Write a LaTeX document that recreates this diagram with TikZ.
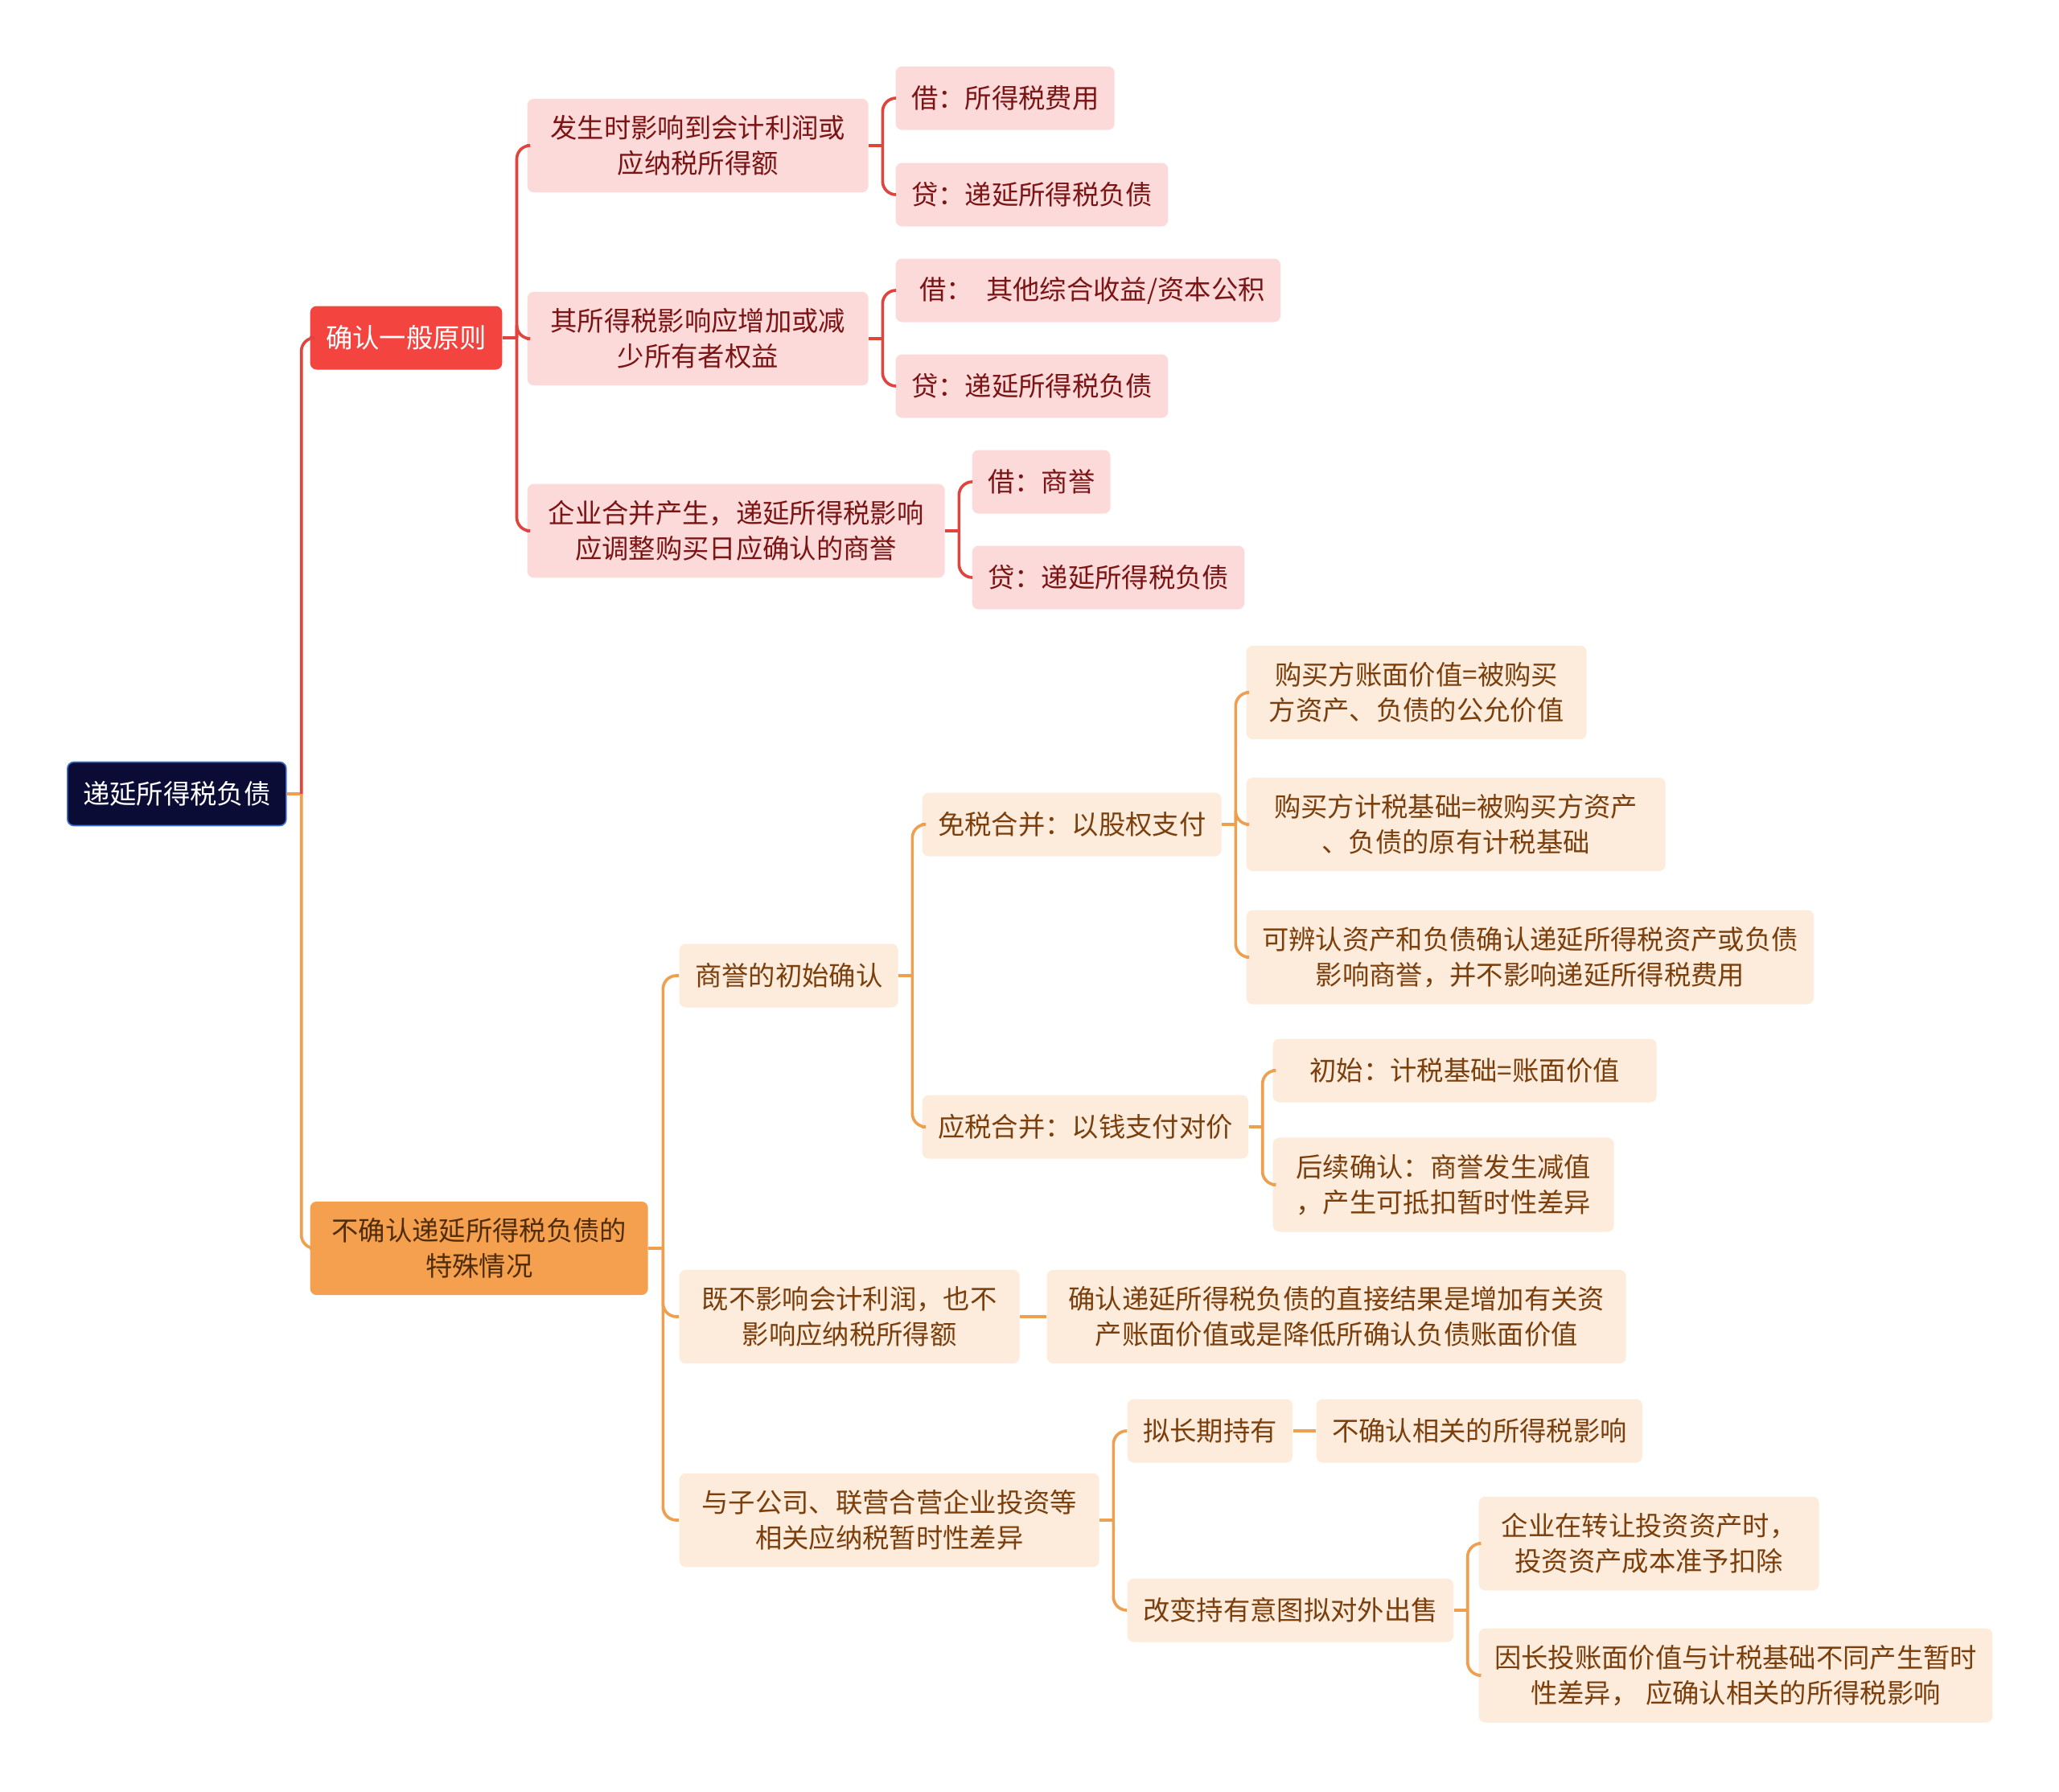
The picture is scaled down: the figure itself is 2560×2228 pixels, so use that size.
\documentclass[tikz,border=0pt]{standalone}
\usepackage{fontspec}
\setmainfont{Noto Sans CJK SC}
\usepackage{tikz}
\usetikzlibrary{calc}
\definecolor{croot}{HTML}{0B0C36}
\definecolor{crootD}{HTML}{3A6FD0}
\definecolor{cred}{HTML}{F4443F}
\definecolor{credL}{HTML}{E0443F}
\definecolor{cpink}{HTML}{FCDADA}
\definecolor{cpinkD}{HTML}{7B1414}
\definecolor{corg}{HTML}{F5A04F}
\definecolor{corgD}{HTML}{4F2C0A}
\definecolor{corgL}{HTML}{EEA050}
\definecolor{cpeach}{HTML}{FDEBDB}
\definecolor{cpeachD}{HTML}{7A3F0C}
\tikzset{
  mbox/.style={rounded corners=2.4pt, align=center, anchor=west,
               inner xsep=5.8pt, inner ysep=6.2pt, minimum height=23.7pt,
               font=\fontsize{10}{13.2}\selectfont},
  wd/.style={minimum width={#1*0.3pt}},
  nroot/.style={mbox, fill=croot, draw=crootD, line width=0.5pt, text=white},
  nred/.style={mbox, fill=cred, text=white},
  npink/.style={mbox, fill=cpink, text=cpinkD},
  norg/.style={mbox, fill=corg, text=corgD, inner xsep=8pt},
  npeach/.style={mbox, fill=cpeach, text=cpeachD},
  linkR/.style={draw=credL, line width=1.1pt, rounded corners=5pt},
  linkO/.style={draw=corgL, line width=1.1pt, rounded corners=5pt},
}
\begin{document}
\begin{tikzpicture}[x=0.3pt, y=-0.3pt]
  \useasboundingbox (0,0) rectangle (2560,2228);
  \node[nroot] (root) at (83,987) {递延所得税负债};
  \node[nred] (red) at (385,420) {确认一般原则};
  \node[norg] (org) at (385,1552) {不确认递延所得税负债的\\特殊情况};
  % red branch
  \node[npink, wd=424] (r1) at (655,181) {发生时影响到会计利润或\\应纳税所得额};
  \node[npink, wd=424] (r2) at (655,421) {其所得税影响应增加或减\\少所有者权益};
  \node[npink, wd=519] (r3) at (655,660) {企业合并产生，递延所得税影响\\应调整购买日应确认的商誉};
  \node[npink] (r1a) at (1113,122) {借：所得税费用};
  \node[npink] (r1b) at (1113,242) {贷：递延所得税负债};
  \node[npink] (r2a) at (1113,361) {\hspace{0.3em}借：\hspace{0.5em}其他综合收益/资本公积};
  \node[npink] (r2b) at (1113,480) {贷：递延所得税负债};
  \node[npink] (r3a) at (1208,599) {借：商誉};
  \node[npink] (r3b) at (1208,718) {贷：递延所得税负债};
  % orange branch
  \node[npeach] (o1) at (844,1213) {商誉的初始确认};
  \node[npeach, wd=423] (o2) at (844,1637) {既不影响会计利润，也不\\影响应纳税所得额};
  \node[npeach, wd=522] (o3) at (844,1890) {与子公司、联营合营企业投资等\\相关应纳税暂时性差异};
  \node[npeach] (o1a) at (1146,1025) {免税合并：以股权支付};
  \node[npeach] (o1b) at (1146,1401) {应税合并：以钱支付对价};
  \node[npeach, wd=720] (o2a) at (1301,1637) {确认递延所得税负债的直接结果是增加有关资\\产账面价值或是降低所确认负债账面价值};
  \node[npeach] (o3a) at (1401,1779) {拟长期持有};
  \node[npeach] (o3b) at (1401,2002) {改变持有意图拟对外出售};
  \node[npeach, wd=423] (o1a1) at (1549,861) {购买方账面价值=被购买\\方资产、负债的公允价值};
  \node[npeach, wd=521] (o1a2) at (1549,1025) {购买方计税基础=被购买方资产\\、负债的原有计税基础};
  \node[npeach] (o1a3) at (1549,1190) {可辨认资产和负债确认递延所得税资产或负债\\影响商誉，并不影响递延所得税费用};
  \node[npeach, wd=477] (o1b1) at (1582,1331) {初始：计税基础=账面价值};
  \node[npeach, wd=424] (o1b2) at (1582,1473) {后续确认：商誉发生减值\\，产生可抵扣暂时性差异};
  \node[npeach] (o3a1) at (1636,1779) {不确认相关的所得税影响};
  \node[npeach, wd=423] (o3b1) at (1838,1919) {企业在转让投资资产时，\\投资资产成本准予扣除};
  \node[npeach] (o3b2) at (1838,2083) {因长投账面价值与计税基础不同产生暂时\\性差异，\hspace{0.3em}应确认相关的所得税影响};
  % connectors
  \draw[linkO] (root.east) -- ++(18,0) coordinate (rootT);
  \draw[linkR] (rootT) |- (red.west);
  \draw[linkO] (rootT) |- (org.west);
  \draw[linkR] (red.east) -- ++(17.5,0) coordinate (redT);
  \foreach \ch in {r1,r2,r3} \draw[linkR] (redT) |- (\ch.west);
  \draw[linkR] (r1.east) -- ++(17,0) coordinate (r1T);
  \foreach \ch in {r1a,r1b} \draw[linkR] (r1T) |- (\ch.west);
  \draw[linkR] (r2.east) -- ++(17,0) coordinate (r2T);
  \foreach \ch in {r2a,r2b} \draw[linkR] (r2T) |- (\ch.west);
  \draw[linkR] (r3.east) -- ++(17,0) coordinate (r3T);
  \foreach \ch in {r3a,r3b} \draw[linkR] (r3T) |- (\ch.west);
  \draw[linkO] (org.east) -- ++(18,0) coordinate (orgT);
  \foreach \ch in {o1,o2,o3} \draw[linkO] (orgT) |- (\ch.west);
  \draw[linkO] (o1.east) -- ++(17,0) coordinate (o1T);
  \foreach \ch in {o1a,o1b} \draw[linkO] (o1T) |- (\ch.west);
  \draw[linkO] (o1a.east) -- ++(17,0) coordinate (o1aT);
  \foreach \ch in {o1a1,o1a2,o1a3} \draw[linkO] (o1aT) |- (\ch.west);
  \draw[linkO] (o1b.east) -- ++(17,0) coordinate (o1bT);
  \foreach \ch in {o1b1,o1b2} \draw[linkO] (o1bT) |- (\ch.west);
  \draw[linkO] (o2.east) -- (o2a.west);
  \draw[linkO] (o3.east) -- ++(17,0) coordinate (o3T);
  \foreach \ch in {o3a,o3b} \draw[linkO] (o3T) |- (\ch.west);
  \draw[linkO] (o3a.east) -- (o3a1.west);
  \draw[linkO] (o3b.east) -- ++(17,0) coordinate (o3bT);
  \foreach \ch in {o3b1,o3b2} \draw[linkO] (o3bT) |- (\ch.west);
\end{tikzpicture}
\end{document}
